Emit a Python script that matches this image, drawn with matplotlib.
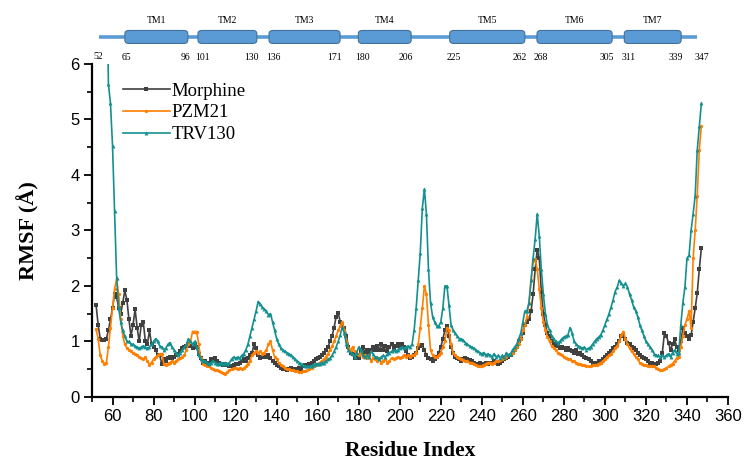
import numpy as np
import matplotlib
matplotlib.use("Agg")
import matplotlib.pyplot as plt
from matplotlib.patches import FancyBboxPatch
from matplotlib.ticker import MultipleLocator

residues = np.arange(52, 348)

morphine = [
    1.65, 1.30, 1.05, 1.02, 1.02, 1.05, 1.20, 1.40,
    1.60, 1.85, 1.80, 1.60, 1.50, 1.70, 1.92, 1.75, 1.40, 1.10,
    1.30, 1.58, 1.25, 1.00, 1.30, 1.35, 1.00, 0.95, 1.20, 0.95,
    0.90, 0.85, 0.75, 0.75, 0.60, 0.68, 0.65, 0.70, 0.72, 0.70,
    0.72, 0.75, 0.78, 0.82, 0.88, 0.90, 0.92, 0.95, 0.92, 0.88,
    0.95, 0.90, 0.78, 0.70, 0.62, 0.65, 0.60, 0.62, 0.68, 0.65,
    0.70, 0.65, 0.62, 0.60, 0.58, 0.60, 0.58, 0.55, 0.55, 0.58,
    0.60, 0.60, 0.62, 0.65, 0.68, 0.65, 0.70, 0.75, 0.80, 0.95,
    0.88, 0.75, 0.70, 0.72, 0.75, 0.72, 0.75, 0.70, 0.65, 0.62,
    0.58, 0.55, 0.52, 0.50, 0.50, 0.48, 0.50, 0.52, 0.50, 0.48,
    0.50, 0.52, 0.50, 0.55, 0.58, 0.58, 0.60, 0.62, 0.65, 0.68,
    0.70, 0.72, 0.75, 0.80, 0.85, 0.90, 1.00, 1.10, 1.25, 1.45,
    1.52, 1.35, 1.30, 1.25, 1.10, 0.90, 0.80, 0.78, 0.70, 0.75,
    0.70, 0.82, 0.90, 0.80, 0.85, 0.78, 0.85, 0.90, 0.85, 0.92,
    0.85, 0.95, 0.85, 0.92, 0.82, 0.90, 0.95, 0.88, 0.92, 0.95,
    0.88, 0.95, 0.90, 0.82, 0.75, 0.70, 0.72, 0.75, 0.80, 0.88,
    0.92, 0.93, 0.85, 0.75, 0.70, 0.68, 0.65, 0.68, 0.72, 0.80,
    0.90, 1.05, 1.20, 1.28, 1.10, 0.90, 0.80, 0.72, 0.70, 0.68,
    0.65, 0.68, 0.70, 0.68, 0.66, 0.65, 0.62, 0.60, 0.60, 0.62,
    0.60, 0.60, 0.62, 0.60, 0.62, 0.62, 0.65, 0.62, 0.60, 0.62,
    0.65, 0.68, 0.70, 0.72, 0.75, 0.80, 0.85, 0.90, 1.00, 1.05,
    1.15, 1.30, 1.35, 1.40, 1.55, 1.85, 2.30, 2.65, 2.50, 1.90,
    1.50, 1.30, 1.15, 1.10, 1.00, 0.95, 0.92, 0.95, 0.88, 0.90,
    0.88, 0.85, 0.88, 0.85, 0.82, 0.80, 0.85, 0.78, 0.80, 0.75,
    0.72, 0.70, 0.68, 0.65, 0.62, 0.60, 0.62, 0.65, 0.62, 0.68,
    0.72, 0.75, 0.80, 0.82, 0.88, 0.90, 0.95, 1.00, 1.10, 1.12,
    1.05, 0.98, 0.95, 0.90, 0.88, 0.85, 0.80, 0.75, 0.72, 0.70,
    0.68, 0.65, 0.60, 0.62, 0.58, 0.60, 0.62, 0.65, 0.80, 1.15,
    1.10, 0.97, 0.85, 0.95, 1.04, 0.90, 0.85, 1.00, 1.24, 1.15,
    1.10, 1.05, 1.11, 1.35, 1.60, 1.87, 2.30, 2.68,
]

pzm21 = [
    1.22, 1.05, 0.75, 0.65, 0.60, 0.62, 0.90, 1.25,
    1.60, 1.95, 2.12, 1.85, 1.40, 1.10, 0.95, 0.88, 0.85, 0.82,
    0.80, 0.78, 0.75, 0.72, 0.70, 0.68, 0.72, 0.65, 0.58, 0.62,
    0.68, 0.72, 0.75, 0.78, 0.78, 0.60, 0.57, 0.60, 0.62, 0.65,
    0.62, 0.65, 0.68, 0.70, 0.72, 0.75, 0.85, 0.95, 1.00, 1.18,
    1.18, 1.18, 0.95, 0.70, 0.60, 0.58, 0.55, 0.55, 0.52, 0.50,
    0.48, 0.48, 0.46, 0.45, 0.43, 0.42, 0.45, 0.48, 0.50, 0.52,
    0.52, 0.50, 0.52, 0.50, 0.52, 0.55, 0.60, 0.65, 0.75, 0.80,
    0.82, 0.80, 0.82, 0.78, 0.80, 0.85, 0.95, 1.00, 0.85, 0.72,
    0.68, 0.62, 0.58, 0.55, 0.52, 0.50, 0.50, 0.48, 0.48, 0.47,
    0.46, 0.45, 0.45, 0.46, 0.47, 0.48, 0.50, 0.52, 0.55, 0.58,
    0.60, 0.62, 0.65, 0.68, 0.72, 0.78, 0.85, 0.92, 1.00, 1.10,
    1.20, 1.28, 1.35, 1.20, 1.00, 0.88, 0.85, 0.90, 0.82, 0.78,
    0.75, 0.80, 0.72, 0.75, 0.70, 0.75, 0.65, 0.70, 0.68, 0.65,
    0.70, 0.62, 0.65, 0.68, 0.62, 0.65, 0.70, 0.68, 0.70, 0.72,
    0.70, 0.72, 0.75, 0.72, 0.75, 0.72, 0.75, 0.75, 0.80, 0.95,
    1.25, 1.60, 2.00, 1.85, 1.30, 0.85, 0.75, 0.72, 0.72, 0.75,
    0.80, 0.90, 1.00, 1.25, 1.20, 0.95, 0.80, 0.75, 0.72, 0.70,
    0.68, 0.66, 0.65, 0.64, 0.62, 0.62, 0.60, 0.58, 0.55, 0.55,
    0.56, 0.58, 0.60, 0.62, 0.62, 0.60, 0.62, 0.64, 0.65, 0.66,
    0.68, 0.70, 0.72, 0.75, 0.78, 0.80, 0.85, 0.90, 0.95, 1.05,
    1.20, 1.30, 1.45, 1.70, 2.10, 2.45, 2.48, 2.30, 1.95, 1.60,
    1.35, 1.20, 1.08, 1.00, 0.92, 0.88, 0.85, 0.80, 0.78, 0.75,
    0.72, 0.70, 0.68, 0.68, 0.65, 0.65, 0.62, 0.60, 0.60, 0.58,
    0.57, 0.56, 0.55, 0.56, 0.57, 0.58, 0.58, 0.60, 0.62, 0.65,
    0.68, 0.72, 0.75, 0.78, 0.82, 0.88, 0.92, 1.00, 1.12, 1.18,
    1.05, 0.95, 0.88, 0.82, 0.78, 0.72, 0.68, 0.62, 0.60, 0.58,
    0.58, 0.56, 0.55, 0.56, 0.55, 0.52, 0.50, 0.48, 0.48, 0.50,
    0.52, 0.55, 0.58, 0.60, 0.65, 0.70, 0.72, 0.90, 1.10, 1.30,
    1.40, 1.55, 1.25, 2.50, 3.00, 3.63, 4.45, 4.88,
]

nan = np.nan
trv130 = [
    nan, nan, nan, nan, nan, 8.00, 5.64, 5.29,
    4.53, 3.36, 2.15, 1.60, 1.35, 1.20, 1.10, 1.00, 1.00, 0.95,
    0.95, 0.92, 0.90, 0.88, 0.90, 0.92, 0.90, 0.88, 0.90, 0.95,
    1.00, 1.05, 1.00, 0.92, 0.90, 0.85, 0.88, 0.95, 0.98, 0.90,
    0.85, 0.80, 0.75, 0.80, 0.85, 0.90, 0.95, 1.05, 1.00, 0.95,
    1.00, 0.90, 0.75, 0.68, 0.65, 0.65, 0.62, 0.60, 0.62, 0.65,
    0.62, 0.60, 0.60, 0.62, 0.60, 0.62, 0.60, 0.62, 0.68, 0.72,
    0.70, 0.72, 0.70, 0.75, 0.78, 0.85, 0.95, 1.10, 1.25, 1.40,
    1.55, 1.72, 1.68, 1.62, 1.58, 1.55, 1.48, 1.50, 1.35, 1.20,
    1.05, 0.95, 0.88, 0.85, 0.82, 0.80, 0.78, 0.75, 0.72, 0.68,
    0.65, 0.62, 0.60, 0.58, 0.55, 0.55, 0.55, 0.56, 0.58, 0.60,
    0.60, 0.60, 0.62, 0.62, 0.65, 0.68, 0.70, 0.75, 0.82, 0.90,
    1.00, 1.12, 1.26, 1.15, 0.95, 0.85, 0.80, 0.78, 0.72, 0.80,
    0.90, 0.85, 0.75, 0.72, 0.75, 0.72, 0.82, 0.78, 0.72, 0.72,
    0.68, 0.72, 0.75, 0.72, 0.78, 0.80, 0.82, 0.85, 0.82, 0.85,
    0.88, 0.90, 0.88, 0.90, 0.92, 0.90, 0.95, 1.20, 1.60, 2.10,
    2.60, 3.40, 3.75, 3.30, 2.30, 1.70, 1.45, 1.35, 1.28, 1.28,
    1.35, 1.60, 2.00, 2.00, 1.65, 1.30, 1.20, 1.15, 1.10, 1.05,
    1.05, 1.02, 0.98, 0.95, 0.92, 0.90, 0.88, 0.85, 0.82, 0.80,
    0.78, 0.80, 0.75, 0.78, 0.75, 0.72, 0.78, 0.72, 0.75, 0.70,
    0.75, 0.72, 0.80, 0.75, 0.78, 0.85, 0.90, 0.95, 1.05, 1.15,
    1.35, 1.55, 1.55, 1.70, 2.10, 2.50, 2.85, 3.30, 2.90, 2.30,
    1.85, 1.50, 1.30, 1.20, 1.10, 1.05, 1.00, 0.98, 1.00, 1.05,
    1.08, 1.10, 1.12, 1.25, 1.15, 1.00, 0.95, 0.92, 0.90, 0.88,
    0.90, 0.85, 0.88, 0.90, 0.95, 1.00, 1.05, 1.08, 1.12, 1.20,
    1.30, 1.40, 1.50, 1.62, 1.75, 1.90, 1.98, 2.10, 2.05, 2.00,
    2.05, 1.98, 1.85, 1.75, 1.62, 1.55, 1.45, 1.30, 1.20, 1.10,
    1.00, 0.95, 0.90, 0.85, 0.78, 0.75, 0.75, 0.72, 0.75, 0.72,
    0.75, 0.78, 0.72, 0.80, 0.85, 0.78, 0.80, 1.30, 1.70, 1.98,
    2.50, 2.55, 3.00, 3.30, 3.63, 4.45, 4.88, 5.29,
]

# transmembrane helices for the top schematic
tm_names = ["TM1", "TM2", "TM3", "TM4", "TM5", "TM6", "TM7"]
tm_start = [65, 101, 136, 180, 225, 268, 311]
tm_end = [96, 130, 171, 206, 262, 305, 339]
chain_start, chain_end = 52, 347

fig = plt.figure(figsize=(7.45, 4.62), dpi=100)
ax = fig.add_axes([0.1235, 0.1407, 0.8537, 0.7208])

ax.plot(residues, morphine, color="#404040", lw=1.2, marker="s", ms=2.4,
        mew=0, label="Morphine")
ax.plot(residues, pzm21, color="#ff8000", lw=1.2, marker="o", ms=2.4,
        mew=0, label="PZM21")
ax.plot(residues, trv130, color="#13908f", lw=1.2, marker="^", ms=2.8,
        mew=0, label="TRV130")

ax.set_xlim(50, 360)
ax.set_ylim(0, 6)
ax.xaxis.set_major_locator(MultipleLocator(20))
ax.xaxis.set_minor_locator(MultipleLocator(10))
ax.yaxis.set_major_locator(MultipleLocator(1))
ax.yaxis.set_minor_locator(MultipleLocator(0.5))
ax.set_xticks(np.arange(60, 361, 20))
for s in ["top", "right"]:
    ax.spines[s].set_visible(False)
for s in ["left", "bottom"]:
    ax.spines[s].set_linewidth(1.6)
ax.tick_params(which="major", direction="out", length=6, width=1.3, pad=3,
               labelsize=12)
ax.tick_params(which="minor", direction="out", length=3.5, width=1.2)
for lab in ax.get_xticklabels() + ax.get_yticklabels():
    lab.set_fontfamily("Liberation Sans")

ax.set_xlabel("Residue Index", family="Liberation Serif", fontweight="bold",
              fontsize=15.5, labelpad=12)
ax.set_ylabel("RMSF (Å)", family="Liberation Serif", fontweight="bold",
              fontsize=16, labelpad=22)

leg = ax.legend(loc="upper left", bbox_to_anchor=(0.022, 0.995), frameon=False,
                handlelength=2.5, handletextpad=0.1, labelspacing=0.25,
                prop={"family": "Liberation Serif", "size": 13.5})

# schematic of the helices above the plot
top = fig.add_axes([0.1235, 0.866, 0.8537, 0.108])
top.set_xlim(48.8, 362.1)
top.set_ylim(0, 50)
top.axis("off")
blue = "#5b9bd5"
top.plot([chain_start, chain_end], [25, 25], color=blue, lw=2.6,
         solid_capstyle="butt", zorder=1)
for name, s, e in zip(tm_names, tm_start, tm_end):
    box = FancyBboxPatch((s, 18.5), e - s, 13,
                         boxstyle="round,pad=0,rounding_size=2.0",
                         mutation_aspect=1.6, fc=blue, ec="#41719c",
                         lw=0.8, zorder=2)
    top.add_patch(box)
    top.text((s + e) / 2, 41, name, ha="center", va="center",
             family="Liberation Serif", fontsize=7)
    top.text(s - 1.5, 4, str(s), ha="left", va="center",
             family="Liberation Serif", fontsize=7)
    top.text(e + 1, 4, str(e), ha="right", va="center",
             family="Liberation Serif", fontsize=7)
top.text(chain_start, 5, str(chain_start), ha="center", va="center",
         family="Liberation Serif", fontsize=7)
top.text(chain_end + 2, 4, str(chain_end), ha="center", va="center",
         family="Liberation Serif", fontsize=7)

fig.savefig("out.png", dpi=100)
